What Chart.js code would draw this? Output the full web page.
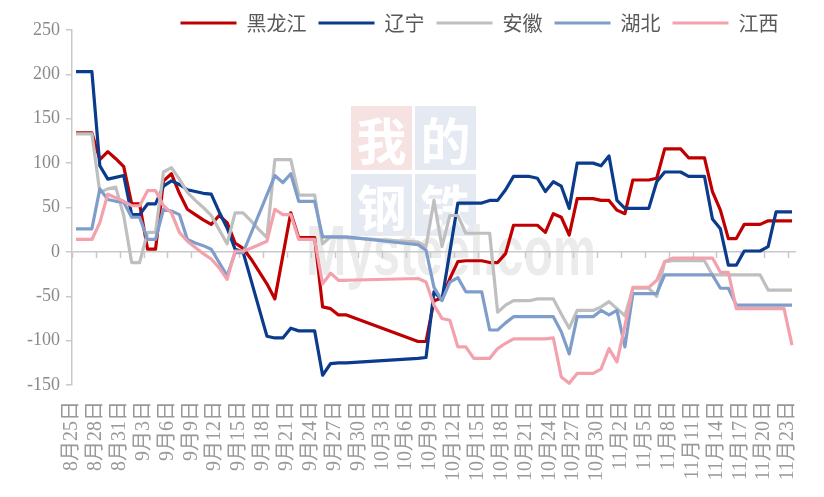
<!DOCTYPE html>
<html>
<head>
<meta charset="utf-8">
<script src="https://cdn.jsdelivr.net/npm/chart.js@4.4.0/dist/chart.umd.min.js"></script>
<style>
  html, body { margin: 0; padding: 0; background: #fff; }
  #wrap { position: relative; width: 824px; height: 497px; overflow: hidden; }
  #chart { position: absolute; left: 0; top: 0; }
  .wm { position: absolute; color: #fff; font: bold 50px "Noto Sans CJK SC"; text-align: center; }
  .mys { position: absolute; left: 306px; top: 216px; font: bold 70px "Liberation Sans"; line-height: 70px;
         color: #ebebeb; transform: scaleX(0.69); transform-origin: left top; white-space: nowrap; }
</style>
</head>
<body>
<div id="wrap">
  <div class="wm" style="left:351px;top:106px;width:61px;height:64px;line-height:64px;background:#f7e2e2">我</div>
  <div class="wm" style="left:415px;top:106px;width:61px;height:64px;line-height:64px;background:#e4e9f2">的</div>
  <div class="wm" style="left:351px;top:174px;width:61px;height:62px;line-height:62px;background:#e4e9f2">钢</div>
  <div class="wm" style="left:415px;top:174px;width:61px;height:62px;line-height:62px;background:#e4e9f2">铁</div>
  <div class="mys">Mysteel.com</div>
  <canvas id="chart" width="824" height="497"></canvas>
</div>
<script>
// daily axis, 8/25 .. 11/23 (holiday 9/29 - 10/6 has no data)
const START = new Date(2023, 7, 25);
const DAY_COUNT = 91;
const DAYS = Array.from({ length: DAY_COUNT }, (_, i) => {
  const d = new Date(START);
  d.setDate(d.getDate() + i);
  return `${d.getMonth() + 1}月${d.getDate()}日`;
});
const LABEL_EVERY = 3;

const Y_MIN = -150;
const Y_MAX = 250;
const Y_STEP = 50;

const NAMES = ["黑龙江", "辽宁", "安徽", "湖北", "江西"];
const COLORS = ["#C00000", "#0B3B8C", "#BFBFBF", "#7F9DCB", "#F3A1AC"];

const heilongjiang = [
  134, 134, 134, 104, 113, 105, 96, 54, 54, 3,
  3, 80, 88, 66, 48, 42, 36, 31, 41, 33,
  10, 4, -8, -22, -36, -53, null, 44, 16, 16,
  16, -62, -64, -71, -71, null, null, null, null, null,
  null, null, null, -101, -101, -55, -52, -30, -11, -10,
  -10, -10, -12, -12, -2, 30, 30, 30, 30, 22,
  43, 39, 19, 60, 60, 60, 58, 58, 47, 43,
  81, 81, 81, 83, 116, 116, 116, 106, 106, 106,
  68, 47, 15, 15, 31, 31, 31, 35, 35, 35, 35
];
const liaoning = [
  203, 203, 203, 97, 82, 84, 86, 42, 42, 54,
  54, 74, 80, 76, 70, 68, 66, 65, 45, 27,
  3, 0, null, null, -95, -97, -97, -86, -89, -89,
  -89, -139, -126, -125, -125, null, null, null, null, null,
  null, null, null, -120, -119, -45, -54, null, 55, 55,
  55, 55, 58, 58, 70, 85, 85, 85, 83, 68,
  79, 74, 49, 100, 100, 100, 97, 108, 58, 49,
  49, 49, 49, 79, 90, 90, 90, 85, 85, 85,
  37, 26, -15, -15, 1, 1, 1, 6, 45, 45, 45
];
const anhui = [
  133, 133, 133, 67, 71, 73, 41, -12, -12, 22,
  22, 90, 95, 82, 67, 58, 50, 41, 25, 9,
  44, 44, 35, 25, 16, 104, 104, 104, 64, 64,
  64, 9, 17, 16, 16, null, null, null, null, null,
  null, null, null, 11, 6, 58, 6, 41, 41, 21,
  21, 21, 21, -68, -60, -55, -55, -55, -53, -53,
  -53, -70, -86, -66, -66, -66, -62, -56, -64, -72,
  -41, -41, -41, -50, -11, -10, -10, -10, -10, -10,
  -26, -26, -26, -26, -26, -26, -26, -43, -43, -43, -43
];
const hubei = [
  26, 26, 26, 71, 59, 57, 56, 39, 39, 14,
  14, 48, 46, 42, 14, 10, 7, 3, -12, -27,
  -1, -1, null, null, null, 86, 78, 88, 57, 57,
  57, 17, 17, 17, 17, null, null, null, null, null,
  null, null, null, 8, 2, -40, -55, -34, -29, -45,
  -45, -45, -88, -88, -80, -73, -73, -73, -73, -73,
  -73, -90, -115, -73, -73, -73, -66, -71, -66, -107,
  -47, -47, -47, -47, -26, -26, -26, -26, -26, -26,
  -26, -41, -41, -60, -60, -60, -60, -60, -60, -60, -60
];
const jiangxi = [
  14, 14, 14, 33, 65, 61, 57, 52, 52, 69,
  69, 52, 44, 22, 12, 5, -2, -8, -18, -31,
  1, 1, 4, 8, 12, 48, 42, 42, 14, 14,
  14, -36, -24, -32, -32, null, null, null, null, null,
  null, null, null, -30, -34, -60, -75, -77, -107, -107,
  -120, -120, -120, -109, -103, -98, -98, -98, -98, -98,
  -97, -141, -148, -137, -137, -137, -132, -109, -124, -83,
  -40, -40, -40, -32, -11, -7, -7, -7, -7, -7,
  -7, -23, -23, -64, -64, -64, -64, -64, -64, -64, -105
];
const SERIES = [heilongjiang, liaoning, anhui, hubei, jiangxi];

const AXIS_GRAY = "#C9C9C9";
const TEXT_GRAY = "#8A8A8A";
const SERIF = "'Liberation Serif', 'Noto Sans CJK SC', serif";

// short tick marks hanging under the zero line, one per labelled date
const zeroTicks = {
  id: "zeroTicks",
  beforeDatasetsDraw(chart) {
    const xs = chart.scales.x, ys = chart.scales.y, ctx = chart.ctx;
    const half = (xs.getPixelForValue(1) - xs.getPixelForValue(0)) / 2;
    const y0 = ys.getPixelForValue(0);
    ctx.save();
    ctx.strokeStyle = AXIS_GRAY;
    ctx.lineWidth = 1.5;
    ctx.beginPath();
    for (let i = 0; i < DAY_COUNT; i += LABEL_EVERY) {
      const x = Math.round(xs.getPixelForValue(i) - half) + 0.5;
      ctx.moveTo(x, y0);
      ctx.lineTo(x, y0 + 6);
    }
    ctx.stroke();
    ctx.restore();
  }
};

// legend sits a bit right of centre, like the original
const legendPlace = {
  id: "legendPlace",
  beforeInit(chart) {
    const fit = chart.legend.fit;
    chart.legend.fit = function () { fit.call(this); this.height = 26; };
  },
  afterLayout(chart) {
    const lg = chart.legend;
    lg.left += 68; lg.right += 68;
    lg.top = 1; lg.bottom = 44;
  }
};

new Chart(document.getElementById("chart"), {
  type: "line",
  data: {
    labels: DAYS,
    datasets: SERIES.map((data, i) => ({
      label: NAMES[i],
      data,
      borderColor: COLORS[i],
      backgroundColor: COLORS[i],
      borderWidth: 3.2,
      pointRadius: 0,
      tension: 0,
      spanGaps: true,
      borderJoinStyle: "round",
      order: SERIES.length - i
    }))
  },
  options: {
    responsive: false,
    animation: false,
    layout: { padding: { top: 4, right: 1, left: 0, bottom: 0 } },
    plugins: {
      tooltip: { enabled: false },
      legend: {
        position: "top",
        labels: {
          usePointStyle: true,
          pointStyle: "line",
          pointStyleWidth: 56,
          padding: 12,
          color: "#595959",
          font: { family: "'Noto Sans CJK SC'", size: 20 },
          sort: (a, b) => a.datasetIndex - b.datasetIndex
        }
      }
    },
    scales: {
      x: {
        offset: true,
        grid: { display: false, offset: true },
        border: { display: false },
        afterFit(s) { s.height = 112; },
        ticks: {
          autoSkip: false,
          minRotation: 90,
          maxRotation: 90,
          padding: 8,
          labelOffset: -4,
          color: "#999999",
          font: { family: SERIF, size: 20 },
          callback: (v, i) => (i % LABEL_EVERY === 0 ? DAYS[i] : "")
        }
      },
      y: {
        min: Y_MIN,
        max: Y_MAX,
        afterFit(s) { s.width = 72; },
        border: { display: true, color: AXIS_GRAY, width: 1.5 },
        grid: {
          drawOnChartArea: true,
          color: (c) => (c.tick && c.tick.value === 0 ? AXIS_GRAY : "rgba(0,0,0,0)"),
          lineWidth: 1.5,
          tickColor: AXIS_GRAY,
          tickLength: 6
        },
        ticks: {
          stepSize: Y_STEP,
          padding: 6,
          color: TEXT_GRAY,
          font: { family: SERIF, size: 18 }
        }
      }
    }
  },
  plugins: [zeroTicks, legendPlace]
});
</script>
</body>
</html>
